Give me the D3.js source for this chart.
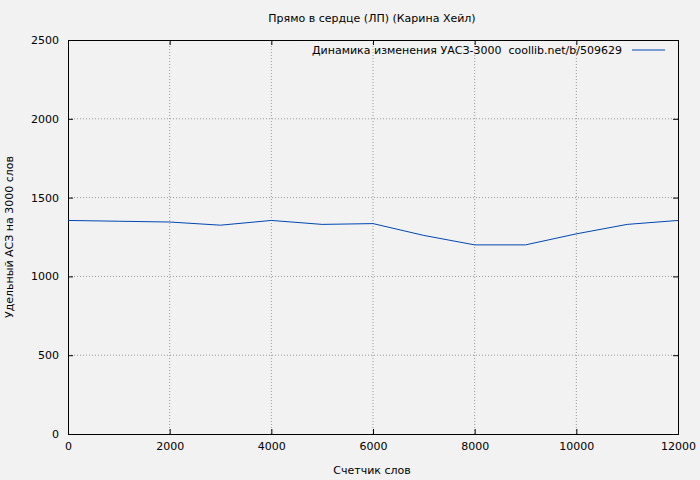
<!DOCTYPE html>
<html><head><meta charset="utf-8">
<script src="https://cdn.jsdelivr.net/npm/d3@7"></script>
<style>body{margin:0;background:#f2f2f2}text{font-family:"DejaVu Sans",sans-serif;font-size:11px;fill:#000}</style>
</head><body><svg id="c" width="700" height="480"></svg>
<script>
// word counter values and specific ACS per 3000 words
const words = [0, 1000, 2000, 3000, 4000, 5000, 6000, 7000, 8000, 9000, 10000, 11000, 12000];
const acs = [1355, 1350, 1345, 1325, 1355, 1330, 1335, 1260, 1200, 1200, 1270, 1330, 1355];
const xTicks = [0, 2000, 4000, 6000, 8000, 10000, 12000];
const yTicks = [0, 500, 1000, 1500, 2000, 2500];

const svg = d3.select("#c");
const m = {left: 68, right: 678, top: 40, bottom: 434};
const x = d3.scaleLinear().domain([0, 12000]).range([m.left, m.right]);
const y = d3.scaleLinear().domain([0, 2500]).range([m.bottom, m.top]);

svg.append("rect").attr("width", 700).attr("height", 480).attr("fill", "#f2f2f2");

// grid
svg.selectAll(".gx").data(xTicks.slice(1, -1)).join("line")
  .attr("x1", d => x(d)).attr("x2", d => x(d)).attr("y1", m.top).attr("y2", m.bottom)
  .attr("stroke", "#999").attr("stroke-dasharray", "1,2");
svg.selectAll(".gy").data(yTicks.slice(1, -1)).join("line")
  .attr("y1", d => y(d)).attr("y2", d => y(d)).attr("x1", m.left).attr("x2", m.right)
  .attr("stroke", "#999").attr("stroke-dasharray", "1,2");

// axes (ticks inward)
svg.append("g").attr("transform", `translate(0,${m.bottom})`)
  .call(d3.axisBottom(x).tickValues(xTicks).tickSize(-5).tickPadding(8).tickFormat(d3.format("d")));
svg.append("g").attr("transform", `translate(0,${m.top})`)
  .call(d3.axisTop(x).tickValues(xTicks).tickSize(-5).tickFormat(""));
svg.append("g").attr("transform", `translate(${m.left},0)`)
  .call(d3.axisLeft(y).tickValues(yTicks).tickSize(-5).tickPadding(9).tickFormat(d3.format("d")));
svg.append("g").attr("transform", `translate(${m.right},0)`)
  .call(d3.axisRight(y).tickValues(yTicks).tickSize(-5).tickFormat(""));
svg.selectAll(".domain").attr("stroke", "#000");
svg.selectAll(".tick text").style("font-family", "DejaVu Sans").style("font-size", "11px");

// line
svg.append("path").datum(words.map((w, i) => [w, acs[i]]))
  .attr("d", d3.line().x(d => x(d[0])).y(d => y(d[1])))
  .attr("fill", "none").attr("stroke", "#0047b3").attr("stroke-width", 1);

// titles
svg.append("text").attr("x", 372).attr("y", 22).attr("text-anchor", "middle").text("Прямо в сердце (ЛП) (Карина Хейл)");
svg.append("text").attr("x", 372).attr("y", 474).attr("text-anchor", "middle").text("Счетчик слов");
svg.append("text").attr("transform", "translate(13,237) rotate(-90)").attr("text-anchor", "middle").text("Удельный АСЗ на 3000 слов");

// legend
svg.append("text").attr("x", 622).attr("y", 54).attr("text-anchor", "end").attr("xml:space", "preserve")
  .text("Динамика изменения УАСЗ-3000  coollib.net/b/509629");
svg.append("line").attr("x1", 632).attr("x2", 665).attr("y1", 50).attr("y2", 50).attr("stroke", "#0047b3");
</script></body></html>
